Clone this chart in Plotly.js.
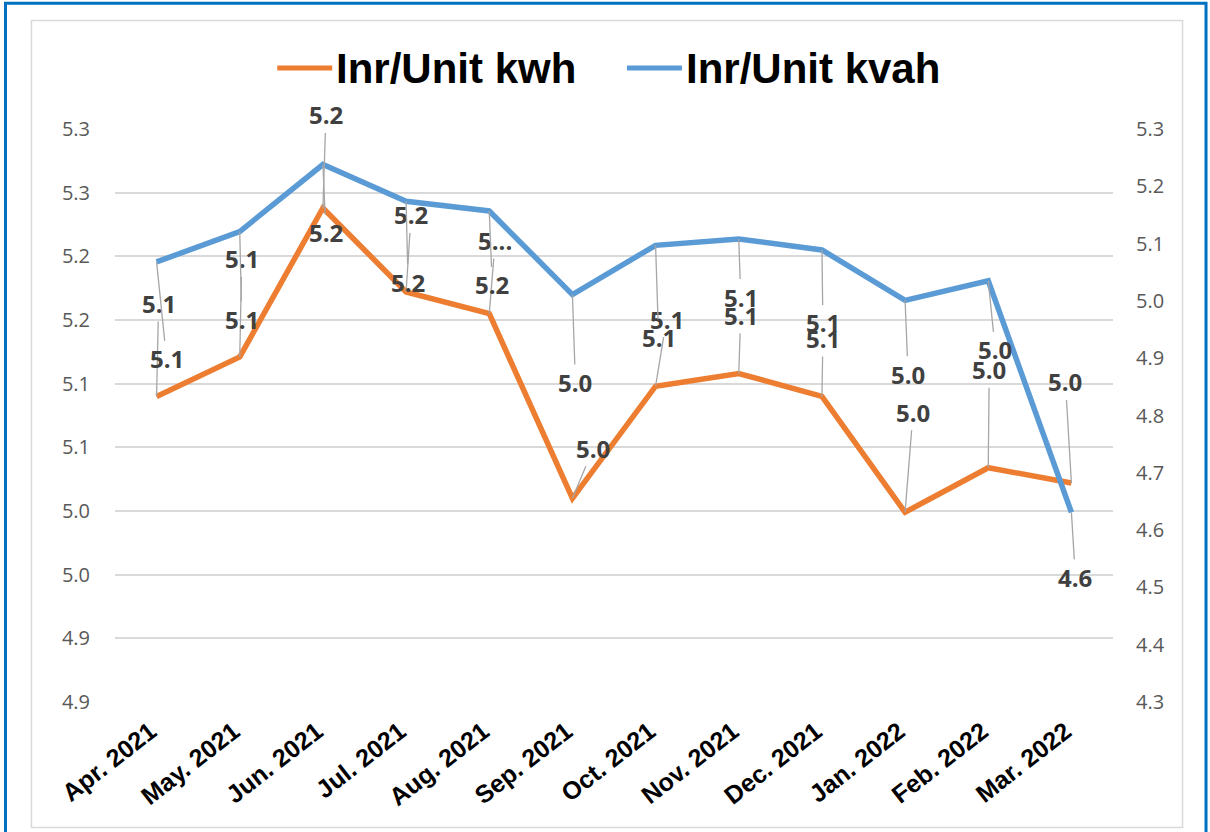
<!DOCTYPE html>
<html><head><meta charset="utf-8">
<script src="https://cdn.plot.ly/plotly-3.0.1.min.js"></script>
<style>html,body{margin:0;padding:0;background:#fff;}#chart{width:1210px;height:832px;}</style>
</head><body><div id="chart"></div>
<script>
// ---- data ----
const months = ['Apr. 2021','May. 2021','Jun. 2021','Jul. 2021','Aug. 2021','Sep. 2021',
                'Oct. 2021','Nov. 2021','Dec. 2021','Jan. 2022','Feb. 2022','Mar. 2022'];
const kwh  = [5.090, 5.121, 5.238, 5.172, 5.155, 5.010, 5.098, 5.108, 5.090, 4.999, 5.034, 5.022];
const kvah = [5.068, 5.121, 5.238, 5.174, 5.157, 5.011, 5.097, 5.108, 5.089, 5.001, 5.035, 4.631];
const seriesNames = ['Inr/Unit kwh', 'Inr/Unit kvah'];
const leftTickVals  = [4.85, 4.90, 4.95, 5.00, 5.05, 5.10, 5.15, 5.20, 5.25, 5.30];
const leftTickText  = ['4.9','4.9','5.0','5.0','5.1','5.1','5.2','5.2','5.3','5.3'];
const rightTickVals = [4.3, 4.4, 4.5, 4.6, 4.7, 4.8, 4.9, 5.0, 5.1, 5.2, 5.3];
const rightTickText = ['4.3','4.4','4.5','4.6','4.7','4.8','4.9','5.0','5.1','5.2','5.3'];
const kwhLabelOverride = {4: '5...'};   // truncated label in the original

// ---- layout helpers (positions only) ----
const W = 1210, H = 832;
const M = {l: 114.6, r: 96.6, t: 129.3, b: 130.3};
const pw = W - M.l - M.r, ph = H - M.t - M.b;
const px = x => (x - M.l) / pw;
const py = y => (H - M.b - y) / ph;

const kwhOff  = [[2,-93],[2,-98],[3,-93],[5,-77],[6,-73],[21,-50],[11,-67],[2,-58],[1,-58],[8,-100],[1,-98],[-6,-101]];
const kvahOff = [[10,97],[2,88],[3,68],[2,81],[3,74],[3,88],[3,92],[2,58],[1,73],[3,74],[7,69],[4,65]];

const ORANGE = '#ED7D31', BLUE = '#5B9BD5';
const labelFont = {family: 'Open Sans, sans-serif', size: 24, color: '#404040'};

const traces = [
  {x: months, y: kwh, type: 'scatter', mode: 'lines', name: seriesNames[0], yaxis: 'y',
   line: {color: ORANGE, width: 5.5}, showlegend: false, hoverinfo: 'skip'},
  {x: months, y: kvah, type: 'scatter', mode: 'lines', name: seriesNames[1], yaxis: 'y2',
   line: {color: BLUE, width: 5.5}, showlegend: false, hoverinfo: 'skip'}
];

const annotations = [];
function addLabels(vals, offs, yref, override) {
  vals.forEach((v, i) => {
    const t = (override && override[i]) ? override[i] : v.toFixed(1);
    annotations.push({
      x: months[i], y: v, xref: 'x', yref: yref, text: '<b>' + t + '</b>',
      showarrow: true, arrowhead: 0, arrowwidth: 1.3, arrowcolor: '#a6a6a6',
      ax: offs[i][0], ay: offs[i][1], axref: 'pixel', ayref: 'pixel',
      font: labelFont, standoff: 0, startstandoff: 0
    });
  });
}
addLabels(kwh, kwhOff, 'y', kwhLabelOverride);
addLabels(kvah, kvahOff, 'y2', null);

// legend (custom, long line samples)
const legendFont = {family: 'Liberation Sans, Arial, sans-serif', size: 42, color: '#000'};
annotations.push({xref: 'paper', yref: 'paper', x: px(334), y: py(69), xanchor: 'left', yanchor: 'middle',
  text: '<b>' + seriesNames[0] + '</b>', showarrow: false, font: legendFont});
annotations.push({xref: 'paper', yref: 'paper', x: px(684), y: py(69), xanchor: 'left', yanchor: 'middle',
  text: '<b>' + seriesNames[1] + '</b>', showarrow: false, font: legendFont});

const shapes = [
  // outer blue frame (open at bottom)
  {type: 'path', xref: 'paper', yref: 'paper', layer: 'below',
   path: `M ${px(5)},${py(840)} L ${px(5)},${py(3.7)} L ${px(1206.5)},${py(3.7)} L ${px(1206.5)},${py(840)}`,
   line: {color: '#0070C0', width: 3}},
  // inner gray chart border
  {type: 'rect', xref: 'paper', yref: 'paper', layer: 'below',
   x0: px(31), x1: px(1183), y0: py(21), y1: py(827), line: {color: '#d9d9d9', width: 1.5}},
  // legend line samples
  {type: 'line', xref: 'paper', yref: 'paper', x0: px(277), x1: px(332), y0: py(68.3), y1: py(68.3),
   line: {color: ORANGE, width: 5}},
  {type: 'line', xref: 'paper', yref: 'paper', x0: px(627), x1: px(682), y0: py(68.3), y1: py(68.3),
   line: {color: BLUE, width: 5}}
];

const layout = {
  width: W, height: H, margin: {l: M.l, r: M.r, t: M.t, b: M.b, pad: 0},
  paper_bgcolor: '#fff', plot_bgcolor: 'rgba(0,0,0,0)', showlegend: false,
  xaxis: {type: 'category', range: [-0.5, 11.5], showgrid: false, zeroline: false, showline: false,
    tickangle: -38, ticks: 'outside', ticklen: 4, tickcolor: 'rgba(0,0,0,0)', automargin: false,
    ticklabelshift: -6,
    tickfont: {family: 'Liberation Sans, Arial, sans-serif', size: 25, color: '#000', weight: 'bold'}},
  yaxis: {range: [4.85, 5.30], tickvals: leftTickVals, ticktext: leftTickText, showgrid: true,
    gridcolor: '#d9d9d9', gridwidth: 2, zeroline: false, showline: false, automargin: false,
    ticks: 'outside', ticklen: 20, tickcolor: 'rgba(0,0,0,0)',
    tickfont: {family: 'Open Sans, sans-serif', size: 20, color: '#595959'}},
  yaxis2: {range: [4.3, 5.3], tickvals: rightTickVals, ticktext: rightTickText, overlaying: 'y', side: 'right',
    showgrid: false, zeroline: false, showline: false, automargin: false,
    ticks: 'outside', ticklen: 18, tickcolor: 'rgba(0,0,0,0)',
    tickfont: {family: 'Open Sans, sans-serif', size: 20, color: '#595959'}},
  annotations: annotations, shapes: shapes
};

Plotly.newPlot('chart', traces, layout, {displayModeBar: false, staticPlot: true});
</script></body></html>
